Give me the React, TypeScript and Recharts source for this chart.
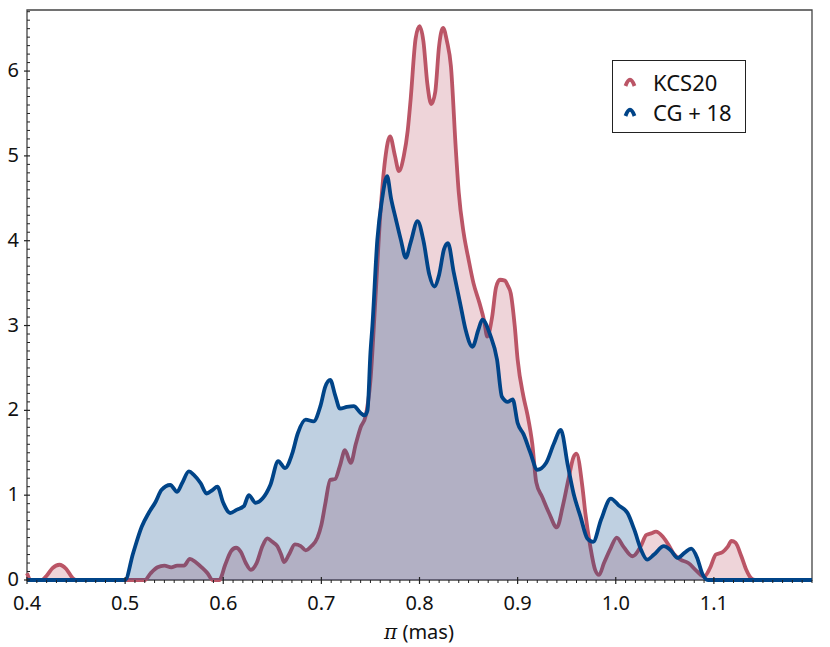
import { ComposedChart, Area, XAxis, YAxis, Legend, ReferenceArea } from 'recharts'

// KCS20 density
const kcsX = [0.4, 0.404, 0.415, 0.42, 0.426, 0.433, 0.44, 0.446, 0.45, 0.52, 0.526, 0.533, 0.54, 0.547, 0.553, 0.56, 0.566, 0.572, 0.578, 0.584, 0.589, 0.596, 0.602, 0.608, 0.613, 0.618, 0.623, 0.628, 0.634, 0.64, 0.645, 0.65, 0.655, 0.659, 0.662, 0.667, 0.673, 0.679, 0.684, 0.69, 0.696, 0.7, 0.704, 0.709, 0.714, 0.719, 0.724, 0.73, 0.735, 0.74, 0.745, 0.75, 0.755, 0.76, 0.765, 0.77, 0.775, 0.779, 0.784, 0.788, 0.791, 0.796, 0.8, 0.804, 0.808, 0.812, 0.816, 0.82, 0.824, 0.828, 0.832, 0.837, 0.84, 0.845, 0.85, 0.855, 0.861, 0.866, 0.869, 0.874, 0.878, 0.882, 0.887, 0.89, 0.893, 0.897, 0.9, 0.906, 0.91, 0.915, 0.919, 0.925, 0.932, 0.94, 0.946, 0.952, 0.957, 0.96, 0.966, 0.969, 0.974, 0.979, 0.983, 0.988, 0.995, 1.001, 1.008, 1.017, 1.026, 1.031, 1.036, 1.041, 1.048, 1.054, 1.059, 1.066, 1.074, 1.083, 1.09, 1.096, 1.102, 1.109, 1.114, 1.118, 1.122, 1.128, 1.133, 1.138, 1.142, 1.2]
const kcsY = [0.08, 0, 0, 0.05, 0.14, 0.18, 0.13, 0.03, 0, 0, 0.08, 0.15, 0.17, 0.15, 0.17, 0.17, 0.25, 0.21, 0.15, 0.08, 0, 0, 0.18, 0.34, 0.38, 0.33, 0.2, 0.12, 0.2, 0.4, 0.49, 0.45, 0.4, 0.3, 0.21, 0.3, 0.42, 0.4, 0.35, 0.4, 0.5, 0.65, 0.9, 1.18, 1.19, 1.35, 1.53, 1.38, 1.6, 1.8, 1.93, 2.35, 3.3, 4.3, 4.96, 5.23, 5.0, 4.82, 5.0, 5.3, 5.67, 6.38, 6.53, 6.35, 5.85, 5.61, 5.75, 6.3, 6.51, 6.35, 6.06, 5.08, 4.57, 4.09, 3.78, 3.5, 3.27, 3.05, 2.87, 3.1, 3.45, 3.54, 3.53, 3.47, 3.38, 3.0, 2.6, 2.16, 1.95, 1.6, 1.15, 0.98, 0.79, 0.62, 0.87, 1.2, 1.45, 1.49, 1.1, 0.79, 0.4, 0.12, 0.06, 0.2, 0.38, 0.5, 0.39, 0.28, 0.41, 0.53, 0.55, 0.57, 0.51, 0.41, 0.31, 0.24, 0.2, 0.1, 0.04, 0.14, 0.3, 0.33, 0.39, 0.46, 0.44, 0.28, 0.12, 0.02, 0, 0]

// CG+18 density
const cgX = [0.4, 0.5, 0.508, 0.517, 0.524, 0.531, 0.537, 0.546, 0.553, 0.558, 0.565, 0.57, 0.577, 0.583, 0.589, 0.594, 0.6, 0.607, 0.614, 0.621, 0.626, 0.633, 0.64, 0.648, 0.656, 0.663, 0.67, 0.676, 0.684, 0.692, 0.699, 0.704, 0.709, 0.714, 0.719, 0.726, 0.733, 0.74, 0.744, 0.747, 0.75, 0.752, 0.757, 0.762, 0.767, 0.771, 0.776, 0.781, 0.786, 0.791, 0.798, 0.804, 0.81, 0.815, 0.82, 0.825, 0.829, 0.835, 0.842, 0.847, 0.854, 0.86, 0.864, 0.872, 0.879, 0.884, 0.89, 0.895, 0.9, 0.906, 0.913, 0.92, 0.929, 0.937, 0.944, 0.951, 0.957, 0.964, 0.971, 0.977, 0.985, 0.995, 1.003, 1.012, 1.019, 1.026, 1.032, 1.039, 1.049, 1.056, 1.063, 1.07, 1.077, 1.083, 1.088, 1.094, 1.2]
const cgY = [0, 0, 0.31, 0.63, 0.79, 0.92, 1.06, 1.12, 1.04, 1.14, 1.28, 1.24, 1.14, 1.02, 1.06, 1.1, 0.91, 0.79, 0.83, 0.87, 1.0, 0.91, 0.96, 1.12, 1.4, 1.32, 1.48, 1.73, 1.89, 1.87, 2.05, 2.28, 2.36, 2.18, 2.02, 2.04, 2.05, 1.97, 1.94, 2.0, 2.68, 3.0, 4.01, 4.5, 4.76, 4.5, 4.25, 4.01, 3.8, 3.98, 4.23, 4.0, 3.6, 3.46, 3.6, 3.9, 3.97, 3.62, 3.23, 2.95, 2.75, 2.95, 3.07, 2.89, 2.6, 2.16, 2.1, 2.13, 1.85, 1.72, 1.5, 1.3, 1.38, 1.61, 1.77, 1.36, 1.02, 0.75, 0.49, 0.45, 0.71, 0.96, 0.88, 0.79, 0.59, 0.35, 0.24, 0.3, 0.4, 0.35, 0.26, 0.32, 0.37, 0.26, 0.08, 0, 0]

const xMajor = [0.4, 0.5, 0.6, 0.7, 0.8, 0.9, 1.0, 1.1]
const xLabels = ['0.4', '0.5', '0.6', '0.7', '0.8', '0.9', '1.0', '1.1']
const yMajor = [0, 1, 2, 3, 4, 5, 6]
const yLabels = ['0', '1', '2', '3', '4', '5', '6']

const seriesNames = ['KCS20', 'CG + 18']
const RED = '#BB5566'
const BLUE = '#004488'
const FONT = '"Noto Sans", sans-serif'

const kcsData = kcsX.map((x, i) => ({ x, y: kcsY[i] }))
const cgData = cgX.map((x, i) => ({ x, y: cgY[i] }))

const xTicks: number[] = []
for (let i = 40; i <= 120; i++) xTicks.push(i / 100)
const yTicks: number[] = []
for (let i = 0; i <= 67; i++) yTicks.push(i / 10)

const XTick = (props: any) => {
  const { x, y, payload } = props
  const idx = xMajor.findIndex((m) => Math.abs(m - payload.value) < 1e-6)
  if (idx < 0) {
    return <line x1={x} x2={x} y1={y} y2={y + 3} stroke="#222" strokeWidth={1} />
  }
  return (
    <g>
      <line x1={x} x2={x} y1={y - 3} y2={y + 4} stroke="#222" strokeWidth={1.2} />
      <text x={x} y={y + 30} textAnchor="middle" fontSize={20} fontFamily={FONT} fill="#111">
        {xLabels[idx]}
      </text>
    </g>
  )
}

const YTick = (props: any) => {
  const { x, y, payload } = props
  const idx = yMajor.findIndex((m) => Math.abs(m - payload.value) < 1e-6)
  if (idx < 0) {
    return <line x1={x} x2={x + 3} y1={y} y2={y} stroke="#222" strokeWidth={1} />
  }
  return (
    <g>
      <line x1={x - 3} x2={x + 3} y1={y} y2={y} stroke="#222" strokeWidth={1.2} />
      <text x={x - 8} y={y + 6} textAnchor="end" fontSize={20} fontFamily={FONT} fill="#111">
        {yLabels[idx]}
      </text>
    </g>
  )
}

const Marker = ({ color }: { color: string }) => (
  <svg width={14} height={12} style={{ display: 'block' }}>
    <path d="M2.5,10 Q7,-2.5 11.5,10" stroke={color} strokeWidth={3.8} fill="none" />
  </svg>
)

const LegendBox = () => (
  <div
    style={{
      border: '1.3px solid #222',
      background: 'white',
      width: 134,
      height: 73,
      boxSizing: 'border-box',
      padding: '6px 0 0 10px',
      fontFamily: FONT,
      fontSize: 22,
      color: '#111',
    }}
  >
    {seriesNames.map((name, i) => (
      <div key={name} style={{ display: 'flex', alignItems: 'center', height: 30 }}>
        <Marker color={i === 0 ? RED : BLUE} />
        <span style={{ marginLeft: 16, lineHeight: '30px' }}>{name}</span>
      </div>
    ))}
  </div>
)

export default function App() {
  return (
    <div style={{ position: 'absolute', left: 0, top: 0, width: 830, height: 647, background: 'white' }}>
      <ComposedChart width={830} height={647} margin={{ top: 10, right: 18, left: 0, bottom: 0 }}>
        <ReferenceArea x1={0.4} x2={1.2} y1={0} y2={6.72} fill="none" stroke="#444" strokeWidth={1.3} ifOverflow="visible" />
        <XAxis
          type="number"
          dataKey="x"
          domain={[0.4, 1.2]}
          ticks={xTicks}
          interval={0}
          height={67}
          tickSize={0}
          tickMargin={0}
          axisLine={false}
          tickLine={false}
          tick={<XTick />}
          allowDuplicatedCategory={false}
        />
        <YAxis
          type="number"
          domain={[0, 6.72]}
          ticks={yTicks}
          interval={0}
          width={27}
          tickSize={0}
          tickMargin={0}
          axisLine={false}
          tickLine={false}
          tick={<YTick />}
        />
        <Legend
          layout="vertical"
          align="center"
          verticalAlign="middle"
          content={<LegendBox />}
          wrapperStyle={{ position: 'absolute', left: 612, top: 60, width: 134, height: 73 }}
        />
        <Area
          data={kcsData}
          dataKey="y"
          name={seriesNames[0]}
          type="monotone"
          stroke={RED}
          strokeWidth={3.8}
          fill={RED}
          fillOpacity={0.25}
          strokeLinejoin="round"
          dot={false}
          activeDot={false}
          isAnimationActive={false}
        />
        <Area
          data={cgData}
          dataKey="y"
          name={seriesNames[1]}
          type="monotone"
          stroke={BLUE}
          strokeWidth={3.8}
          fill={BLUE}
          fillOpacity={0.25}
          strokeLinejoin="round"
          dot={false}
          activeDot={false}
          isAnimationActive={false}
        />
        <text x={419} y={639} textAnchor="middle" fontSize={20} fontFamily={FONT} fill="#111">
          <tspan fontFamily="DejaVu Serif, serif" fontStyle="italic">π</tspan>
          <tspan> (mas)</tspan>
        </text>
      </ComposedChart>
    </div>
  )
}
